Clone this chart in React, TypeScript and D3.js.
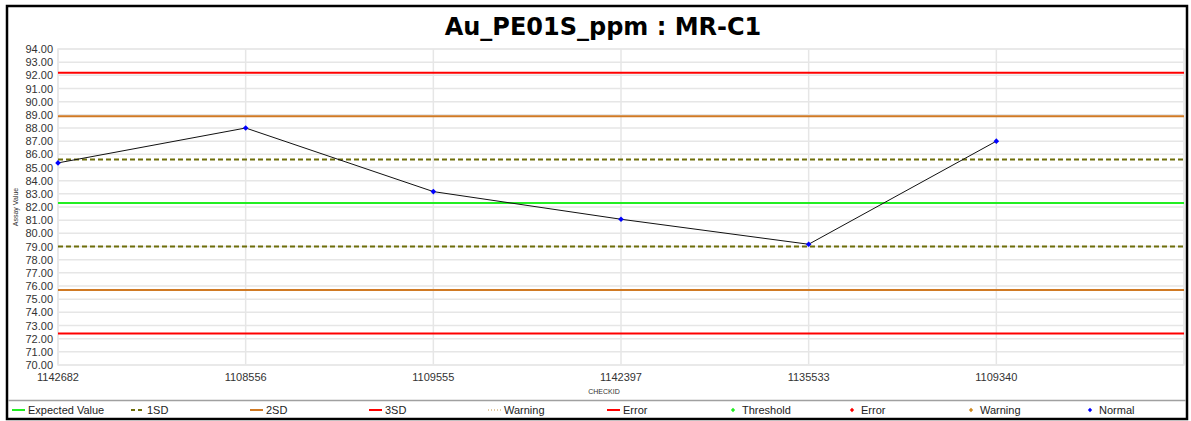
import React from "react";
import * as d3 from "d3";

const categories = ["1142682", "1108556", "1109555", "1142397", "1135533", "1109340"];
const assayValues = [85.35, 88.0, 83.17, 81.07, 79.17, 87.0];
const yTicks = d3.range(70, 95, 1);
const expectedValue = 82.3;
const sd = 3.3;
const controlLines = [
  { name: "3SD+", value: expectedValue + 3 * sd, color: "#ff0000", dash: "" },
  { name: "2SD+", value: expectedValue + 2 * sd, color: "#d07a24", dash: "" },
  { name: "1SD+", value: expectedValue + sd, color: "#6e6e0a", dash: "5,3" },
  { name: "EV", value: expectedValue, color: "#22ee22", dash: "" },
  { name: "1SD-", value: expectedValue - sd, color: "#6e6e0a", dash: "5,3" },
  { name: "2SD-", value: expectedValue - 2 * sd, color: "#d07a24", dash: "" },
  { name: "3SD-", value: expectedValue - 3 * sd, color: "#ff0000", dash: "" },
];
const legendItems = [
  { label: "Expected Value", kind: "line", color: "#22ee22", dash: "" },
  { label: "1SD", kind: "line", color: "#6e6e0a", dash: "4,3" },
  { label: "2SD", kind: "line", color: "#d07a24", dash: "" },
  { label: "3SD", kind: "line", color: "#ff0000", dash: "" },
  { label: "Warning", kind: "line", color: "#e0c8a0", dash: "1,2" },
  { label: "Error", kind: "line", color: "#ff0000", dash: "" },
  { label: "Threshold", kind: "dot", color: "#22ee22", dash: "" },
  { label: "Error", kind: "dot", color: "#ff0000", dash: "" },
  { label: "Warning", kind: "dot", color: "#d08a20", dash: "" },
  { label: "Normal", kind: "dot", color: "#0000ff", dash: "" },
];

const W = 1191;
const H = 421;
const plot = { left: 58, right: 1184, top: 49, bottom: 365 };

export default function App() {
  const x = d3.scaleLinear().domain([0, categories.length]).range([plot.left, plot.right]);
  const y = d3.scaleLinear().domain([70, 94]).range([plot.bottom, plot.top]);
  const line = d3
    .line<number>()
    .x((_, i) => x(i))
    .y((d) => y(d));
  const diamond = d3.symbol().type(d3.symbolDiamond2).size(20)();
  const legendDiamond = d3.symbol().type(d3.symbolDiamond2).size(12)();
  const font = "'Liberation Sans', Arial, sans-serif";

  return (
    <div style={{ position: "absolute", left: 0, top: 0 }}>
      <svg width={W} height={H} style={{ display: "block", background: "#fff" }}>
        <rect x={7} y={6} width={1180} height={413} fill="#fff" stroke="#000" strokeWidth={2.5} />
        <text
          x={603}
          y={35}
          textAnchor="middle"
          fontFamily="Tahoma, 'DejaVu Sans', Verdana, sans-serif"
          fontWeight="bold"
          fontSize={24}
          fill="#000"
        >
          Au_PE01S_ppm : MR-C1
        </text>
        {/* grid */}
        <g>
          {yTicks.map((t) => (
            <line key={"h" + t} x1={plot.left} x2={plot.right} y1={y(t)} y2={y(t)} stroke="#e6e6e6" strokeWidth={1.5} />
          ))}
          {d3.range(0, categories.length + 1).map((i) => (
            <line key={"v" + i} x1={x(i)} x2={x(i)} y1={plot.top} y2={plot.bottom} stroke="#e6e6e6" strokeWidth={1.5} />
          ))}
          <rect
            x={plot.left}
            y={plot.top}
            width={plot.right - plot.left}
            height={plot.bottom - plot.top}
            fill="none"
            stroke="#e8e8e8"
            strokeWidth={1.5}
          />
        </g>
        {/* y ticks */}
        <g fontFamily={font} fontSize={11} fill="#333">
          {yTicks.map((t) => (
            <text key={"yt" + t} x={53} y={y(t) + 4} textAnchor="end">
              {t.toFixed(2)}
            </text>
          ))}
          {categories.map((c, i) => (
            <text key={"xt" + i} x={x(i)} y={381} textAnchor="middle">
              {c}
            </text>
          ))}
        </g>
        <text
          x={0}
          y={0}
          transform={`translate(18,${(plot.top + plot.bottom) / 2}) rotate(-90)`}
          textAnchor="middle"
          fontFamily={font}
          fontSize={7}
          fill="#333"
        >
          Assay Value
        </text>
        <text x={604} y={394} textAnchor="middle" fontFamily={font} fontSize={7} fill="#333">
          CHECKID
        </text>
        {/* control lines */}
        {controlLines.map((c) => (
          <line
            key={c.name}
            x1={plot.left}
            x2={plot.right}
            y1={y(c.value)}
            y2={y(c.value)}
            stroke={c.color}
            strokeWidth={2}
            strokeDasharray={c.dash || undefined}
          />
        ))}
        {/* data line */}
        <path d={line(assayValues) || ""} fill="none" stroke="#111" strokeWidth={1} />
        {assayValues.map((v, i) => (
          <path key={"pt" + i} d={diamond || ""} transform={`translate(${x(i)},${y(v)})`} fill="#0000ff" />
        ))}
        {/* legend */}
        <line x1={8} x2={1186} y1={400.5} y2={400.5} stroke="#a0a0a0" strokeWidth={1.5} />
        <g fontFamily={font} fontSize={11} fill="#222">
          {legendItems.map((it, i) => {
            const lx = 12 + i * 119;
            return (
              <g key={"lg" + i}>
                {it.kind === "line" ? (
                  <line
                    x1={lx}
                    x2={lx + 13}
                    y1={410}
                    y2={410}
                    stroke={it.color}
                    strokeWidth={2}
                    strokeDasharray={it.dash || undefined}
                  />
                ) : (
                  <path d={legendDiamond || ""} transform={`translate(${lx + 7},410)`} fill={it.color} />
                )}
                <text x={lx + 16} y={414}>
                  {it.label}
                </text>
              </g>
            );
          })}
        </g>
      </svg>
    </div>
  );
}
